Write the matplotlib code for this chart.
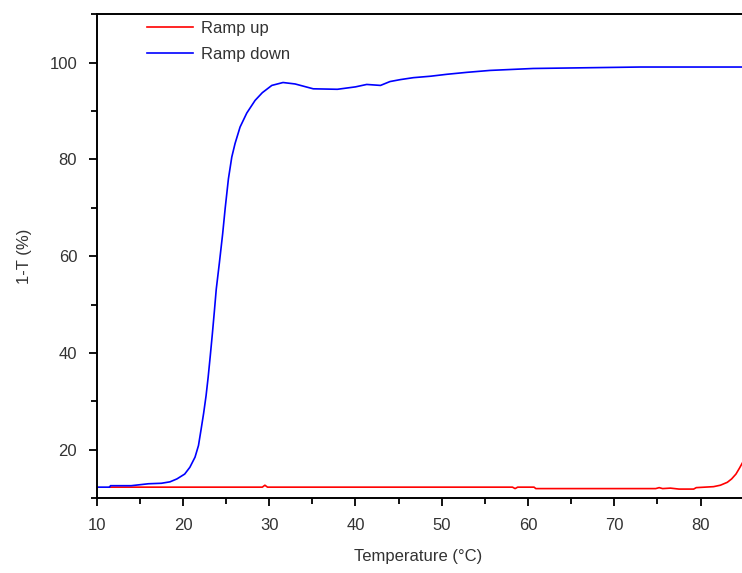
import numpy as np
import matplotlib.pyplot as plt
from matplotlib.ticker import MultipleLocator

# data
temp_down = [10.0, 11.5, 11.6, 14.0, 16.0, 17.5, 18.5, 19.3, 20.2, 20.8, 21.4, 21.8,
             22.1, 22.4, 22.68, 22.92, 23.16, 23.41, 23.64, 23.86, 24.22, 24.6,
             24.9, 25.27, 25.66, 26.04, 26.62, 27.4, 28.36, 29.2, 30.3, 31.6,
             33.0, 35.1, 37.9, 40.0, 41.3, 42.9, 44.0, 45.2, 46.7, 48.7, 50.6,
             52.9, 55.6, 60.6, 73.0, 85.0]
trans_down = [12.3, 12.3, 12.6, 12.6, 13.0, 13.1, 13.4, 14.0, 15.0, 16.4, 18.5, 20.9,
              24.2, 27.6, 31.2, 35.0, 39.3, 44.0, 48.6, 53.2, 58.6, 64.6,
              70.0, 76.0, 80.5, 83.3, 86.7, 89.6, 92.2, 93.8, 95.3, 95.9,
              95.6, 94.6, 94.5, 95.0, 95.5, 95.3, 96.1, 96.5, 96.9, 97.2, 97.6,
              98.0, 98.4, 98.8, 99.1, 99.1]

temp_up = [11.5, 29.2, 29.5, 29.8, 58.2, 58.5, 58.8, 60.7, 60.9, 74.8, 75.2, 75.6,
           76.5, 77.5, 79.2, 79.5, 81.5, 82.3, 83.1, 83.6, 84.1, 84.5, 85.0]
trans_up = [12.3, 12.3, 12.7, 12.3, 12.3, 12.0, 12.3, 12.3, 12.0, 12.0, 12.2, 12.0,
            12.1, 11.9, 11.9, 12.2, 12.4, 12.7, 13.3, 14.0, 15.0, 16.2, 17.8]

plt.rcParams['font.family'] = ['Liberation Sans', 'DejaVu Sans']

fig = plt.figure(figsize=(7.42, 5.73), dpi=100)
ax = fig.add_axes([0.1303, 0.1304, 0.872, 0.8447])

ax.plot(temp_up, trans_up, color='#ff0000', lw=1.2, label='Ramp up')
ax.plot(temp_down, trans_down, color='#0000ff', lw=1.2, label='Ramp down')

ax.set_xlim(10, 85)
ax.set_ylim(10, 110)
ax.xaxis.set_major_locator(MultipleLocator(10))
ax.xaxis.set_minor_locator(MultipleLocator(5))
ax.yaxis.set_major_locator(MultipleLocator(20))
ax.yaxis.set_minor_locator(MultipleLocator(10))
ax.set_yticks([20, 40, 60, 80, 100])

ax.spines['right'].set_visible(False)
for s in ['left', 'bottom', 'top']:
    ax.spines[s].set_linewidth(1.4)
ax.tick_params(which='major', direction='out', length=6, width=1.3,
               labelsize=12, labelcolor='#333333', pad=8)
ax.tick_params(which='minor', direction='out', length=4, width=1.3)

ax.set_xlabel('Temperature (°C)', fontsize=12, color='#333333')
ax.set_ylabel('1-T (%)', fontsize=12, color='#333333')
ax.xaxis.set_label_coords(0.497, -0.105)
ax.yaxis.set_label_coords(-0.1, 0.5)

ax.legend(loc='upper left', bbox_to_anchor=(0.055, 1.018), frameon=False,
          fontsize=12, handlelength=2.75, handletextpad=0.45, labelspacing=0.68,
          labelcolor='#333333')

fig.savefig('out.png', dpi=100)
